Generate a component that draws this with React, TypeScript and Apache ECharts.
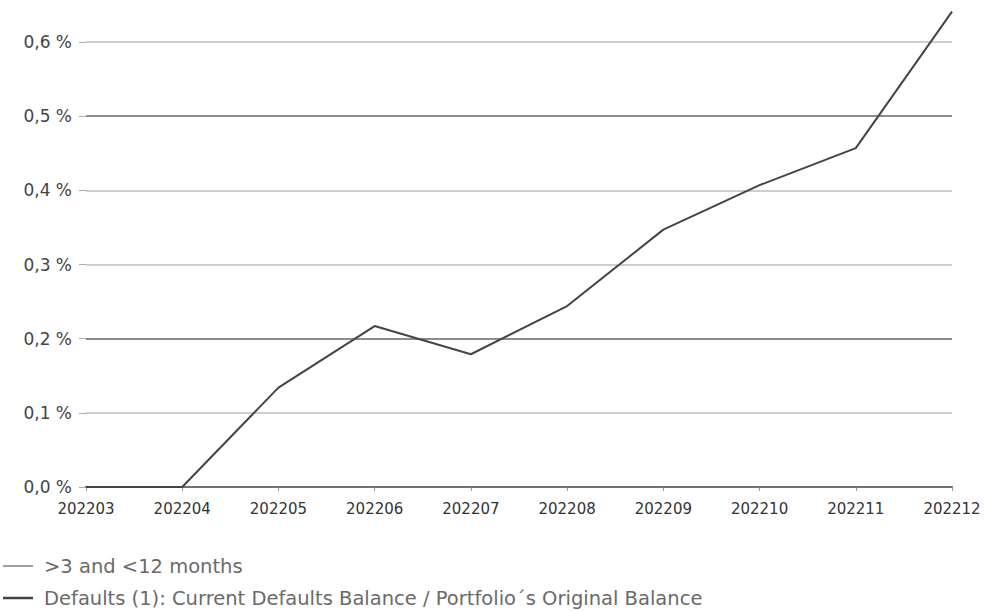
import React, { useEffect, useRef } from "react";
import * as echarts from "echarts";

const categories = ["202203", "202204", "202205", "202206", "202207", "202208", "202209", "202210", "202211", "202212"];
const months3to12 = [0, 0, 0, 0, 0, 0, 0, 0, 0, 0];
const defaultsRatio = [0, 0, 0.134, 0.217, 0.179, 0.244, 0.347, 0.407, 0.457, 0.641];
const seriesNames = [">3 and <12 months", "Defaults (1): Current Defaults Balance / Portfolio´s Original Balance"];

const FONT = "DejaVu Sans";

export default function App() {
  const ref = useRef<HTMLDivElement>(null);
  useEffect(() => {
    if (!ref.current) return;
    const chart = echarts.init(ref.current, undefined, { renderer: "svg" });
    chart.setOption({
      animation: false,
      backgroundColor: "#ffffff",
      textStyle: { fontFamily: FONT },
      grid: { left: 86, right: 33, top: 42, bottom: 124, containLabel: false },
      legend: {
        orient: "vertical",
        left: 3,
        top: 556,
        padding: 0,
        itemWidth: 30,
        itemHeight: 12,
        itemGap: 12,
        textStyle: { fontFamily: FONT, fontSize: 19.5, color: "#6a6a6a", padding: [0, 0, 0, 6] },
        data: [
          { name: seriesNames[0], icon: "path://M0,0 L30,0 L30,1.5 L0,1.5 Z", itemStyle: { color: "#808080" } },
          { name: seriesNames[1], icon: "path://M0,0 L30,0 L30,2.5 L0,2.5 Z", itemStyle: { color: "#444" } },
        ],
      },
      xAxis: {
        type: "category",
        data: categories,
        boundaryGap: false,
        axisLine: { show: true, lineStyle: { color: "#444", width: 2 } },
        axisTick: { show: true, alignWithLabel: true, length: 4, lineStyle: { color: "#999" } },
        axisLabel: { fontFamily: FONT, fontSize: 15, color: "#333", margin: 14 },
        splitLine: { show: false },
      },
      yAxis: {
        type: "value",
        min: 0,
        max: 0.6,
        interval: 0.1,
        axisLine: { show: false },
        axisTick: { show: true, length: 7, lineStyle: { color: "#aaa" } },
        axisLabel: {
          fontFamily: FONT,
          fontSize: 17,
          color: "#444",
          margin: 14,
          formatter: (v: number) => v.toFixed(1).replace(".", ",") + " %",
        },
        splitLine: {
          show: true,
          lineStyle: { color: ["#555", "#bdbdbd", "#666", "#bdbdbd", "#bdbdbd", "#666", "#bdbdbd"], width: 1.5 },
        },
      },
      series: [
        {
          name: seriesNames[0],
          type: "line",
          data: months3to12,
          symbol: "none",
          lineStyle: { color: "#808080", width: 1.5 },
          itemStyle: { color: "#808080" },
          clip: false,
        },
        {
          name: seriesNames[1],
          type: "line",
          data: defaultsRatio,
          symbol: "none",
          lineStyle: { color: "#444", width: 2 },
          itemStyle: { color: "#444" },
          clip: false,
        },
      ],
    });
    return () => chart.dispose();
  }, []);
  return <div ref={ref} style={{ width: 985, height: 611, position: "absolute", left: 0, top: 0 }} />;
}
